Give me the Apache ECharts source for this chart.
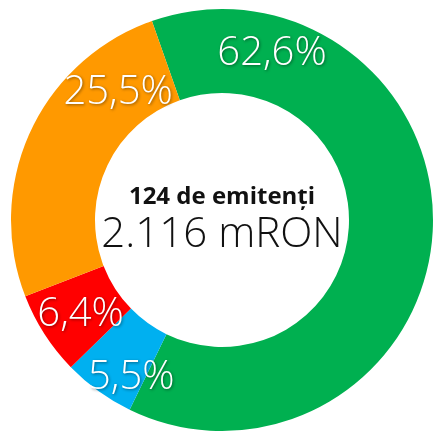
<!DOCTYPE html>
<html>
<head>
<meta charset="utf-8">
<script src="https://cdn.jsdelivr.net/npm/echarts@6/dist/echarts.min.js"></script>
<style>
  html, body { margin: 0; padding: 0; background: #fff; }
  #chart { width: 434px; height: 433px; }
</style>
</head>
<body>
<div id="chart"></div>
<script>
// date: ponderea pe categorii
const categories = ['Verde', 'Albastru', 'Roșu', 'Portocaliu'];
const values = [62.6, 5.5, 6.4, 25.5];
const colors = ['#00B050', '#00B0F0', '#FF0000', '#FF9900'];
const centerTitle = '124 de emitenți';
const centerValue = '2.116 mRON';

// pozitia etichetelor (unghi in grade de la ora 12, sens orar; raza in px)
const labelAngles = [16.7, 209.9, 236.3, 320.7];
const labelRadii = [174, 182, 170, 164];

const cx = 222;
const cy = 220;

const myChart = echarts.init(document.getElementById('chart'));

const option = {
  animation: false,
  graphic: [
    {
      type: 'text',
      x: cx,
      y: 197,
      style: {
        text: centerTitle,
        fill: '#111',
        font: 'bold 24px "Open Sans"',
        textAlign: 'center',
        textVerticalAlign: 'middle'
      }
    },
    {
      type: 'text',
      x: cx,
      y: 235,
      style: {
        text: centerValue,
        fill: '#111',
        font: '300 42px "Open Sans"',
        textAlign: 'center',
        textVerticalAlign: 'middle'
      }
    }
  ],
  series: [
    {
      type: 'pie',
      center: [cx, cy],
      radius: [127, 211],
      startAngle: 109.4,
      clockwise: true,
      silent: true,
      data: categories.map((name, i) => ({
        name: name,
        value: values[i],
        itemStyle: { color: colors[i] }
      })),
      label: {
        show: true,
        position: 'inside',
        color: '#fff',
        fontFamily: 'Open Sans',
        fontWeight: 300,
        fontSize: 40,
        textShadowColor: 'rgba(0,0,0,0.45)',
        textShadowBlur: 3,
        textShadowOffsetX: 1,
        textShadowOffsetY: 1,
        formatter: p => p.value.toFixed(1).replace('.', ',') + '%'
      },
      labelLine: { show: false },
      labelLayout: function (params) {
        const i = params.dataIndex;
        const a = labelAngles[i] * Math.PI / 180;
        return {
          x: cx + labelRadii[i] * Math.sin(a),
          y: cy - labelRadii[i] * Math.cos(a),
          align: 'center',
          verticalAlign: 'middle'
        };
      }
    }
  ]
};

myChart.setOption(option);
</script>
</body>
</html>
